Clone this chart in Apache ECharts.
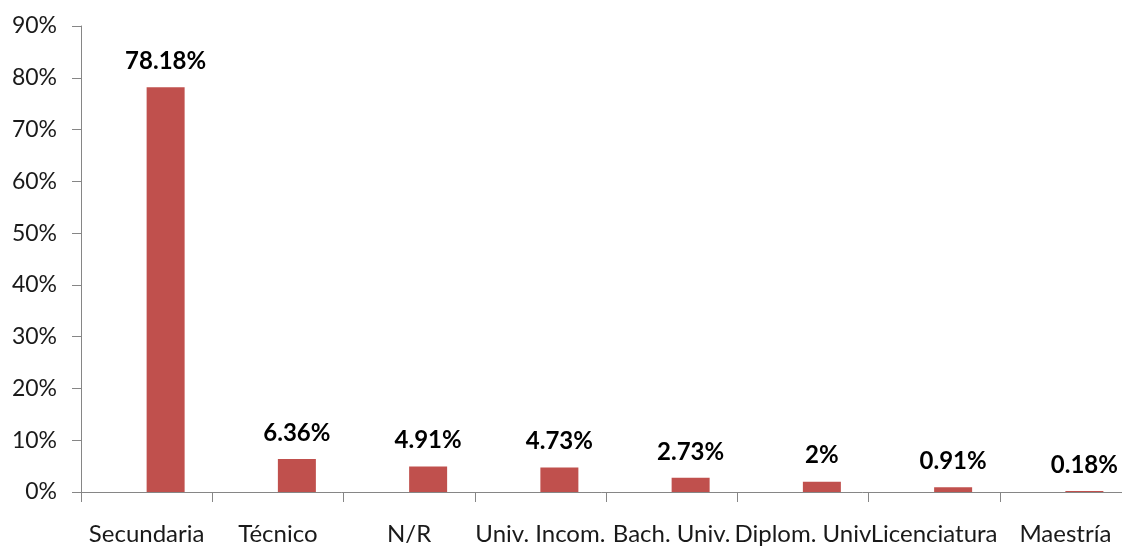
<!DOCTYPE html>
<html>
<head>
<meta charset="utf-8">
<script src="https://cdn.jsdelivr.net/npm/echarts@6/dist/echarts.min.js"></script>
<style>
  html, body { margin: 0; padding: 0; background: #fff; }
  #chart { width: 1122px; height: 547px; }
</style>
</head>
<body>
<div id="chart"></div>
<script>
const categories = ['Secundaria', 'Técnico', 'N/R', 'Univ. Incom.', 'Bach. Univ.', 'Diplom. Univ', 'Licenciatura', 'Maestría'];
const percentages = [78.18, 6.36, 4.91, 4.73, 2.73, 2, 0.91, 0.18];
const yTicks = { min: 0, max: 90, interval: 10 };

const font = 'Lato';
const chart = echarts.init(document.getElementById('chart'));
chart.setOption({
  animation: false,
  textStyle: { fontFamily: font },
  // plot runs past the right edge of the picture, as in the original
  grid: { left: 81, top: 26, width: 1050, height: 466, containLabel: false, outerBoundsMode: 'none' },
  xAxis: {
    type: 'category',
    data: categories,
    axisLine: { lineStyle: { color: '#868686', width: 1 } },
    axisTick: { show: true, length: 10, lineStyle: { color: '#868686' } },
    axisLabel: {
      interval: 0,
      margin: 30,
      fontSize: 24,
      color: '#1a1a1a',
      fontFamily: font,
      hideOverlap: false
    },
    splitLine: { show: false }
  },
  yAxis: {
    type: 'value',
    min: yTicks.min,
    max: yTicks.max,
    interval: yTicks.interval,
    axisLine: { show: true, lineStyle: { color: '#868686', width: 1 } },
    axisTick: { show: true, length: 9, lineStyle: { color: '#868686' } },
    axisLabel: {
      formatter: '{value}%',
      margin: 24,
      fontSize: 23,
      color: '#1a1a1a',
      fontFamily: font
    },
    splitLine: { show: false }
  },
  series: [
    {
      // empty companion series (shifts the real bars right of the category centre)
      type: 'bar',
      data: [],
      barWidth: 38,
      barGap: '0%'
    },
    {
      type: 'bar',
      data: percentages,
      barWidth: 38,
      barGap: '0%',
      itemStyle: { color: '#C0504D' },
      label: {
        show: true,
        position: 'top',
        distance: 14,
        formatter: p => p.value + '%',
        fontSize: 24,
        fontWeight: 'bold',
        color: '#000',
        fontFamily: font
      }
    }
  ]
});
</script>
</body>
</html>
